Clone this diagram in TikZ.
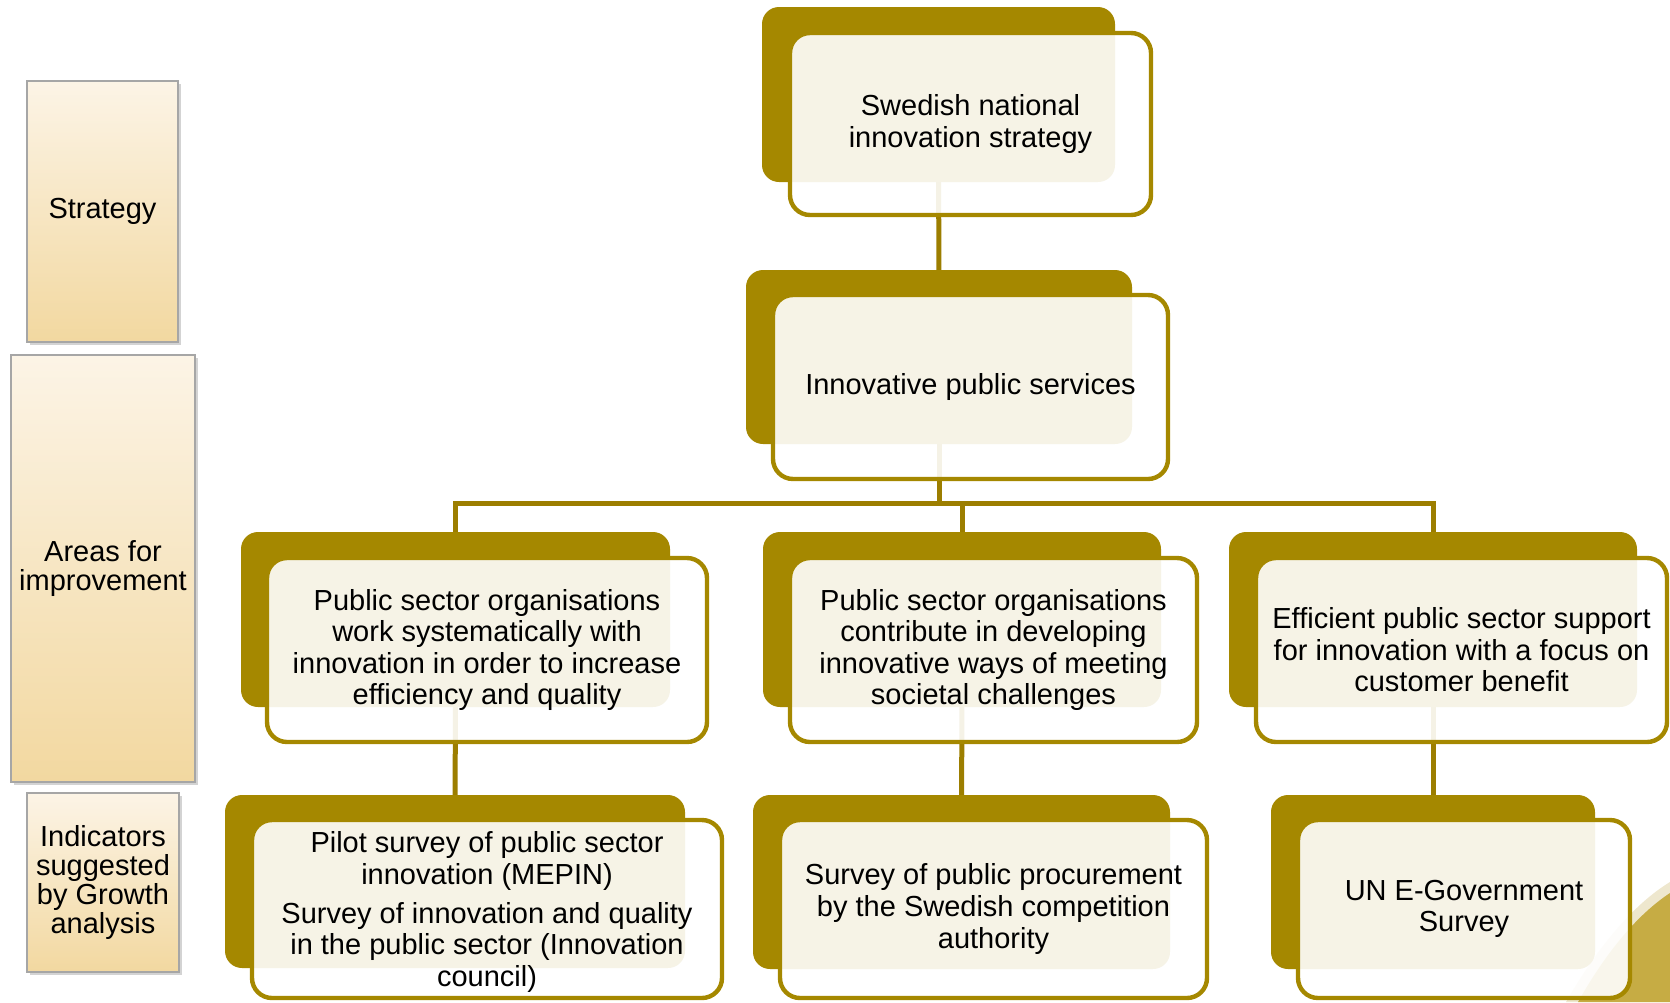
\documentclass[tikz,border=0pt]{standalone}
\usepackage{fontspec}
\setmainfont{Liberation Sans}
\usetikzlibrary{fit,backgrounds,shadows}

\definecolor{olivegold}{RGB}{165,136,0}
\definecolor{linkgold}{RGB}{156,126,0}
\definecolor{labeltop}{RGB}{252,244,230}
\definecolor{labelbot}{RGB}{242,216,160}
\definecolor{swooshgold}{RGB}{198,172,68}
\definecolor{swooshcream}{RGB}{238,231,206}

\tikzset{
  backbox/.style={fill=olivegold, rounded corners=8.5pt, inner sep=0pt, outer sep=0pt},
  frontbox/.style={draw=olivegold, line width=2.2pt, fill=white, fill opacity=0.9,
    rounded corners=10pt, inner sep=0pt, outer sep=0pt},
  boxtext/.style={inner sep=0pt, align=center, font=\fontsize{14.5}{15.8}\selectfont},
  sidelabel/.style={draw=gray!70, line width=0.6pt, top color=labeltop, bottom color=labelbot,
    drop shadow={shadow xshift=1.5pt, shadow yshift=-1.5pt, opacity=0.35}, inner sep=0pt},
  sidetext/.style={inner sep=0pt, align=center, font=\fontsize{14.5}{14.4}\selectfont},
  link/.style={draw=linkgold, line width=2.5pt}
}

\begin{document}
\begin{tikzpicture}[x=0.5pt, y=-0.5pt]
  \useasboundingbox (0,0) rectangle (1670,1002);

  % row labels
  \node[sidelabel, fit={(27,81) (178,342)}] (strategy) {};
  \node[sidetext] (strategytext) at (strategy) {Strategy};
  \node[sidelabel, fit={(11,355) (195,782)}] (areas) {};
  \node[sidetext] (areastext) at (areas) {Areas for\\improvement};
  \node[sidelabel, fit={(27,793) (179,972)}] (indicators) {};
  \node[sidetext] (indicatorstext) at (indicators) {Indicators\\suggested\\by Growth\\analysis};

  % strategy
  \node[backbox, fit={(762,7) (1115,182)}] (b0) {};
  \node[frontbox, fit={(790,33) (1151,215)}] (f0) {};
  \node[boxtext] (t0) at (f0) {Swedish national\\innovation strategy};

  \node[backbox, fit={(746,270) (1132,444)}] (b1) {};
  \node[frontbox, fit={(773,295) (1168,479)}] (f1) {};
  \node[boxtext] (t1) at (f1) {Innovative public services};

  % areas for improvement
  \node[backbox, fit={(241,532) (670,707)}] (b2a) {};
  \node[frontbox, fit={(267,558) (707,742)}] (f2a) {};
  \node[boxtext] (t2a) at (f2a) {Public sector organisations\\work systematically with\\innovation in order to increase\\efficiency and quality};

  \node[backbox, fit={(763,532) (1161,707)}] (b2b) {};
  \node[frontbox, fit={(790,558) (1197,742)}] (f2b) {};
  \node[boxtext] (t2b) at (f2b) {Public sector organisations\\contribute in developing\\innovative ways of meeting\\societal challenges};

  \node[backbox, fit={(1229,532) (1637,707)}] (b2c) {};
  \node[frontbox, fit={(1256,558) (1667,742)}] (f2c) {};
  \node[boxtext] (t2c) at (f2c) {Efficient public sector support\\for innovation with a focus on\\customer benefit};

  % indicators
  \node[backbox, fit={(225,795) (685,968)}] (b3a) {};
  \node[frontbox, fit={(252,820) (722,998)}] (f3a) {};
  \node[boxtext] (t3a) at ([yshift=-1.5pt]f3a.center) {Pilot survey of public sector\\innovation (MEPIN)\\[3.5pt]Survey of innovation and quality\\in the public sector (Innovation\\council)};

  \node[backbox, fit={(753,795) (1170,969)}] (b3b) {};
  \node[frontbox, fit={(780,820) (1207,998)}] (f3b) {};
  \node[boxtext] (t3b) at (f3b) {Survey of public procurement\\by the Swedish competition\\authority};

  \node[backbox, fit={(1271,795) (1595,969)}] (b3c) {};
  \node[frontbox, fit={(1298,820) (1630,998)}] (f3c) {};
  \node[boxtext] (t3c) at (f3c) {UN E-Government\\Survey};

  \coordinate (bar) at (939,503);

  \begin{scope}[on background layer]
    % slide swoosh
    \fill[swooshcream] (1566,1002) .. controls (1596,950) and (1632,905) .. (1670,882) -- (1670,1002) -- cycle;
    \fill[swooshgold] (1578,1002) .. controls (1606,952) and (1638,914) .. (1670,893) -- (1670,1002) -- cycle;

    \draw[link] (b0) -- (b1);
    \draw[link] (b1) -- (b1 |- bar) -| (b2a);
    \draw[link] (b1 |- bar) -| (b2c);
    \draw[link] (b2b |- bar) -- (b2b);
    \draw[link] (b2a) -- (b3a);
    \draw[link] (b2b) -- (b3b);
    \draw[link] (b2c) -- (b3c);
  \end{scope}
\end{tikzpicture}
\end{document}
